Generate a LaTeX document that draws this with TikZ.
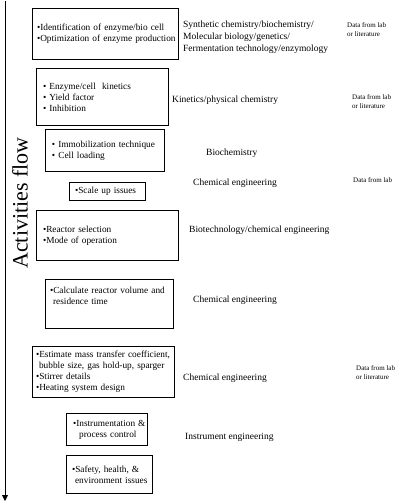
\documentclass[tikz,border=0pt]{standalone}
\usepackage{fontspec}
\setmainfont{Liberation Serif}
\usetikzlibrary{arrows.meta}
\tikzset{
  actbox/.style={draw, line width=1pt, anchor=north west, align=left,
    font=\fontsize{9.3}{11}\selectfont, inner ysep=0pt},
  disc/.style={anchor=west, align=left, inner sep=0pt,
    font=\fontsize{9.5}{12}\selectfont},
  datalab/.style={anchor=west, align=left, inner sep=0pt,
    font=\fontsize{7}{9}\selectfont},
}
\newcommand{\bx}[7]{% name, x, y, w, h, pad, text
  \node[actbox, minimum width=#4pt, minimum height=#5pt, inner xsep=#6pt,
        text width=#4pt-2*#6pt-1pt] (#1) at (#2,#3) {#7};}
\newcommand{\bxline}[1]{\mbox{#1}}
\begin{document}
\begin{tikzpicture}[x=1pt,y=-1pt]
\useasboundingbox (0,0) rectangle (400,504);
% flow arrow
\coordinate (atop) at (5,1);
\coordinate (abot) at (5,501);
\draw[line width=0.9pt, -{Triangle[width=6pt,length=6pt]}] (atop) -- (abot);
\node[rotate=90, font=\fontsize{22}{24}\selectfont, inner sep=0pt] (flow) at (20,203) {Activities flow};
% boxes
\bx{b1}{32}{8}{146}{51}{4}{\bxline{\textbullet Identification of enzyme/bio cell}\\\bxline{\textbullet Optimization of enzyme production}}
\bx{b2}{36}{68}{132}{57}{6}{\bxline{\textbullet{} Enzyme/cell\ \ kinetics}\\\bxline{\textbullet{} Yield factor}\\\bxline{\textbullet{} Inhibition}}
\bx{b3}{45}{129}{119}{42}{6}{\bxline{\textbullet{} Immobilization technique}\\\bxline{\textbullet{} Cell loading}}
\bx{b4}{69}{182}{76}{18}{5}{\bxline{\textbullet Scale up issues}}
\bx{b5}{36}{210}{142}{50}{6}{\bxline{\textbullet Reactor selection}\\\bxline{\textbullet Mode of operation}}
\bx{b6}{45}{279}{128}{49}{4}{\bxline{\textbullet Calculate reactor volume and}\\\bxline{\ residence time}\\[5pt]\mbox{}}
\bx{b7}{32}{346}{142}{51}{3}{\bxline{\textbullet Estimate mass transfer coefficient,}\\\bxline{\ bubble size, gas hold-up, sparger}\\\bxline{\textbullet Stirrer details}\\\bxline{\textbullet Heating system design}}
\bx{b8}{66}{413}{81}{32}{6}{\bxline{\textbullet Instrumentation \&}\\\bxline{\ \ process control}}
\bx{b9}{66}{455}{86}{38}{5}{\bxline{\textbullet Safety, health, \&}\\\bxline{\ environment issues}}
% discipline labels
\node[disc] (d1) at (183,37) {Synthetic chemistry/biochemistry/\\Molecular biology/genetics/\\Fermentation technology/enzymology};
\node[disc] (d2) at (172,100) {Kinetics/physical chemistry};
\node[disc] (d3) at (206,153) {Biochemistry};
\node[disc] (d4) at (193,183) {Chemical engineering};
\node[disc] (d5) at (189,230) {Biotechnology/chemical engineering};
\node[disc] (d6) at (193,300) {Chemical engineering};
\node[disc] (d7) at (183,378) {Chemical engineering};
\node[disc] (d8) at (185,437) {Instrument engineering};
% data labels
\node[datalab] (e1) at (347,30) {Data from lab\\or literature};
\node[datalab] (e2) at (352,102) {Data from lab\\or literature};
\node[datalab] (e3) at (353,180) {Data from lab};
\node[datalab] (e4) at (356,373) {Data from lab\\or literature};
\end{tikzpicture}
\end{document}
